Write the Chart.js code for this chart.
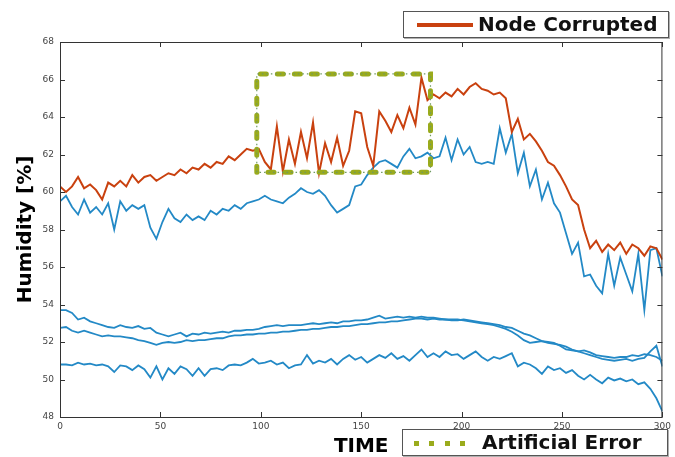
<!DOCTYPE html>
<html>
<head>
<meta charset="utf-8">
<script src="https://cdn.jsdelivr.net/npm/chart.js@4.4.1/dist/chart.umd.min.js"></script>
<style>
  body { margin: 0; background: #fff; }
  #wrap { position: relative; width: 675px; height: 457px; overflow: hidden; }
  .legend { position: absolute; background: #fff; border: 1px solid #555; box-shadow: 1px 1px 0 #b0b0b0;
            font: bold 20px "DejaVu Sans", sans-serif; color: #111; white-space: nowrap; box-sizing: border-box; }
  .legend span.txt { position: absolute; top: 0; line-height: 24px; }
  .swatch-line { position: absolute; height: 4px; background: #c9410f; }
  .dot { position: absolute; width: 5px; height: 5px; background: #9aab1c; }
</style>
</head>
<body>
<div id="wrap">
  <canvas id="humidityChart" width="675" height="457"></canvas>
  <div class="legend" style="left:403px; top:11px; width:266px; height:27px;">
    <div class="swatch-line" style="left:13px; top:11px; width:56px;"></div>
    <span class="txt" style="left:74px;">Node Corrupted</span>
  </div>
  <div class="legend" style="left:402px; top:429px; width:266px; height:27px;">
    <div class="dot" style="left:11px; top:11px;"></div>
    <div class="dot" style="left:26px; top:11px;"></div>
    <div class="dot" style="left:42px; top:11px;"></div>
    <div class="dot" style="left:57px; top:11px;"></div>
    <span class="txt" style="left:79px;">Artificial Error</span>
  </div>
</div>
<script>
// === HUMIDITY CHART ===

// sample times (every 3 time units, 0..300)
const times = Array.from({ length: 101 }, (_, i) => i * 3);

const nodeCorrupted = [
  60.3, 60.0, 60.3, 60.8, 60.2, 60.4, 60.1, 59.6, 60.5, 60.3,
  60.6, 60.3, 60.9, 60.5, 60.8, 60.9, 60.6, 60.8, 61.0, 60.9,
  61.2, 61.0, 61.3, 61.2, 61.5, 61.3, 61.6, 61.5, 61.9, 61.7,
  62.0, 62.3, 62.2, 62.3, 61.6, 61.2, 63.5, 61.1, 62.8, 61.5,
  63.2, 61.8, 63.7, 61.0, 62.6, 61.6, 62.9, 61.4, 62.2, 64.3,
  64.2, 62.4, 61.4, 64.3, 63.8, 63.2, 64.1, 63.4, 64.5, 63.6,
  66.1, 64.9, 65.2, 65.0, 65.3, 65.1, 65.5, 65.2, 65.6, 65.8,
  65.5, 65.4, 65.2, 65.3, 65.0, 63.2, 63.9, 62.8, 63.1, 62.7,
  62.2, 61.6, 61.4, 60.9, 60.3, 59.6, 59.3, 58.0, 57.0, 57.4,
  56.8, 57.2, 56.9, 57.3, 56.7, 57.2, 57.0, 56.6, 57.1, 57.0,
  56.4
];

const nodeNeighbour = [
  59.5, 59.8, 59.2, 58.8, 59.6, 58.9, 59.2, 58.8, 59.4, 58.0,
  59.5, 59.0, 59.3, 59.1, 59.3, 58.1, 57.5, 58.4, 59.1, 58.6,
  58.4, 58.8, 58.5, 58.7, 58.5, 59.0, 58.8, 59.1, 59.0, 59.3,
  59.1, 59.4, 59.5, 59.6, 59.8, 59.6, 59.5, 59.4, 59.7, 59.9,
  60.2, 60.0, 59.9, 60.1, 59.8, 59.3, 58.9, 59.1, 59.3, 60.3,
  60.4, 60.9, 61.3, 61.6, 61.7, 61.5, 61.3, 61.9, 62.3, 61.8,
  61.9, 62.1, 61.8, 61.9, 62.9, 61.7, 62.8, 62.0, 62.4, 61.6,
  61.5, 61.6, 61.5, 63.4, 62.1, 63.1, 61.0, 62.1, 60.3, 61.2,
  59.6, 60.5, 59.4, 58.9, 57.8, 56.7, 57.3, 55.5, 55.6, 55.0,
  54.6, 56.7, 55.0, 56.5, 55.6, 54.7, 56.7, 53.7, 56.9, 57.0,
  55.5
];

const nodeA = [
  53.7, 53.7, 53.55, 53.2, 53.3, 53.1, 53.0, 52.9, 52.8, 52.75,
  52.9, 52.8, 52.75, 52.85, 52.7, 52.75, 52.5, 52.4, 52.3, 52.4,
  52.5, 52.3, 52.45, 52.4, 52.5, 52.45, 52.5, 52.55, 52.5, 52.6,
  52.6, 52.65, 52.65, 52.7, 52.8, 52.85, 52.9, 52.85, 52.9, 52.9,
  52.9, 52.95, 53.0, 52.95, 53.0, 53.05, 53.0, 53.1, 53.1, 53.15,
  53.15, 53.2, 53.3, 53.4, 53.25, 53.3, 53.35, 53.3, 53.35, 53.3,
  53.35, 53.3, 53.3, 53.25, 53.2, 53.2, 53.2, 53.15, 53.1, 53.05,
  53.0, 52.95, 52.9, 52.8, 52.7, 52.55, 52.35, 52.1, 51.95, 52.0,
  52.05, 52.0, 51.95, 51.8, 51.6, 51.55, 51.5, 51.4, 51.3, 51.2,
  51.1, 51.05, 51.0, 51.05, 51.1, 51.0, 51.1, 51.15, 51.5, 51.8,
  50.7
];

const nodeB = [
  52.75, 52.8, 52.6, 52.5, 52.6, 52.5, 52.4, 52.3, 52.35, 52.3,
  52.3, 52.25, 52.2, 52.1, 52.05, 51.95, 51.85, 51.95, 52.0, 51.95,
  52.0, 52.1, 52.05, 52.1, 52.1, 52.15, 52.2, 52.2, 52.3, 52.35,
  52.35, 52.4, 52.4, 52.45, 52.45, 52.5, 52.5, 52.55, 52.55, 52.6,
  52.65, 52.65, 52.7, 52.7, 52.75, 52.8, 52.8, 52.85, 52.85, 52.9,
  52.95, 52.95, 53.0, 53.05, 53.05, 53.1, 53.1, 53.15, 53.2, 53.25,
  53.25, 53.2, 53.25, 53.2, 53.2, 53.15, 53.15, 53.2, 53.15, 53.1,
  53.05, 53.0, 52.95, 52.9, 52.8, 52.75, 52.6, 52.45, 52.35, 52.2,
  52.05, 51.95, 51.9, 51.85, 51.75, 51.6, 51.5, 51.55, 51.45, 51.3,
  51.25, 51.2, 51.15, 51.2, 51.2, 51.3, 51.25, 51.35, 51.3, 51.2,
  51.0
];

const nodeC = [
  50.8, 50.8, 50.75, 50.9, 50.8, 50.85, 50.75, 50.8, 50.7, 50.4,
  50.75, 50.7, 50.5, 50.75, 50.55, 50.1, 50.7, 50.0, 50.6, 50.3,
  50.7, 50.55, 50.2, 50.6, 50.2, 50.55, 50.6, 50.5, 50.75, 50.8,
  50.75, 50.9, 51.1, 50.85, 50.9, 51.0, 50.8, 50.9, 50.6, 50.75,
  50.8, 51.3, 50.85, 51.0, 50.9, 51.1, 50.8, 51.1, 51.3, 51.05,
  51.2, 50.9, 51.1, 51.3, 51.15, 51.4, 51.1, 51.25, 51.0, 51.3,
  51.6, 51.2, 51.4, 51.2, 51.5, 51.3, 51.35, 51.1, 51.3, 51.5,
  51.2, 51.0, 51.2, 51.1, 51.25, 51.4, 50.7, 50.9, 50.8, 50.6,
  50.3, 50.7, 50.5, 50.6, 50.35, 50.5, 50.2, 50.0, 50.25, 50.0,
  49.8, 50.1, 49.95, 50.05, 49.9, 50.0, 49.75, 49.85, 49.5, 49.0,
  48.3
];

// artificial error window: time span and humidity span
const errorWindow = [98, 184.5];
const errorRange = [61.05, 66.3];

const xTicks = [0, 50, 100, 150, 200, 250, 300];
const yTicks = [48, 50, 52, 54, 56, 58, 60, 62, 64, 66, 68];

const ORANGE = '#c9410f';
const BLUE = '#2389c6';
const OLIVE = '#9aab1c';

const toPoints = vals => vals.map((v, i) => ({ x: times[i], y: v }));

const errorBox = [
  { x: errorWindow[0], y: errorRange[0] },
  { x: errorWindow[0], y: errorRange[1] },
  { x: errorWindow[1], y: errorRange[1] },
  { x: errorWindow[1], y: errorRange[0] },
  { x: errorWindow[0], y: errorRange[0] }
];

// frame round the plot with inward ticks on every side
const frameTicks = {
  id: 'frameTicks',
  afterDraw(chart) {
    const { ctx, chartArea: a, scales: { x, y } } = chart;
    ctx.save();
    ctx.strokeStyle = '#333';
    ctx.lineWidth = 1;
    ctx.beginPath();
    x.ticks.forEach(t => {
      const px = Math.round(x.getPixelForValue(t.value)) + 0.5;
      ctx.moveTo(px, a.bottom); ctx.lineTo(px, a.bottom - 5);
      ctx.moveTo(px, a.top); ctx.lineTo(px, a.top + 5);
    });
    y.ticks.forEach(t => {
      const py = Math.round(y.getPixelForValue(t.value)) + 0.5;
      ctx.moveTo(a.left, py); ctx.lineTo(a.left + 5, py);
      ctx.moveTo(a.right, py); ctx.lineTo(a.right - 5, py);
    });
    ctx.stroke();
    ctx.strokeRect(a.left + 0.5, a.top + 0.5, a.right - a.left - 1, a.bottom - a.top);
    ctx.restore();
  }
};

const lineDs = (data, color, order, width) => ({
  data: toPoints(data), borderColor: color, borderWidth: width, pointRadius: 0,
  showLine: true, tension: 0, order
});

new Chart(document.getElementById('humidityChart'), {
  type: 'scatter',
  data: {
    datasets: [
      { data: errorBox, borderColor: '#6f9a5f', borderWidth: 1.2, borderDash: [1.5, 3], pointRadius: 0, showLine: true, tension: 0, order: 0 },
      { data: errorBox, borderColor: OLIVE, borderWidth: 5, borderDash: [6, 11], borderCapStyle: 'round', pointRadius: 0, showLine: true, tension: 0, order: 0 },
      lineDs(nodeCorrupted, ORANGE, 1, 2),
      lineDs(nodeNeighbour, BLUE, 2, 1.8),
      lineDs(nodeA, BLUE, 3, 1.8),
      lineDs(nodeB, BLUE, 3, 1.8),
      lineDs(nodeC, BLUE, 3, 1.8)
    ]
  },
  options: {
    responsive: false,
    animation: false,
    layout: { padding: { top: 42, right: 7, left: 0, bottom: 0 } },
    plugins: { legend: { display: false }, tooltip: { enabled: false } },
    scales: {
      x: {
        type: 'linear', min: 0, max: 300,
        afterBuildTicks: s => { s.ticks = xTicks.map(v => ({ value: v })); },
        afterFit: s => { s.height = 40; },
        grid: { display: false, drawTicks: false },
        border: { display: false },
        ticks: { color: '#444', font: { family: 'DejaVu Sans', size: 9 }, padding: 4, autoSkip: false, maxRotation: 0 },
        title: { display: true, text: 'TIME', color: '#000', font: { family: 'DejaVu Sans', size: 20, weight: 'bold', lineHeight: 0.8 }, padding: { top: 0, bottom: 2 } }
      },
      y: {
        min: 48, max: 68,
        afterBuildTicks: s => { s.ticks = yTicks.map(v => ({ value: v })); },
        afterFit: s => { s.width = 60; },
        grid: { display: false, drawTicks: false },
        border: { display: false },
        ticks: { color: '#444', font: { family: 'DejaVu Sans', size: 9 }, padding: 6 },
        title: { display: true, text: 'Humidity [%]', color: '#000', font: { family: 'DejaVu Sans', size: 20, weight: 'bold', lineHeight: 1.2 }, padding: { top: 14, bottom: 0 } }
      }
    }
  },
  plugins: [frameTicks]
});
</script>
</body>
</html>
